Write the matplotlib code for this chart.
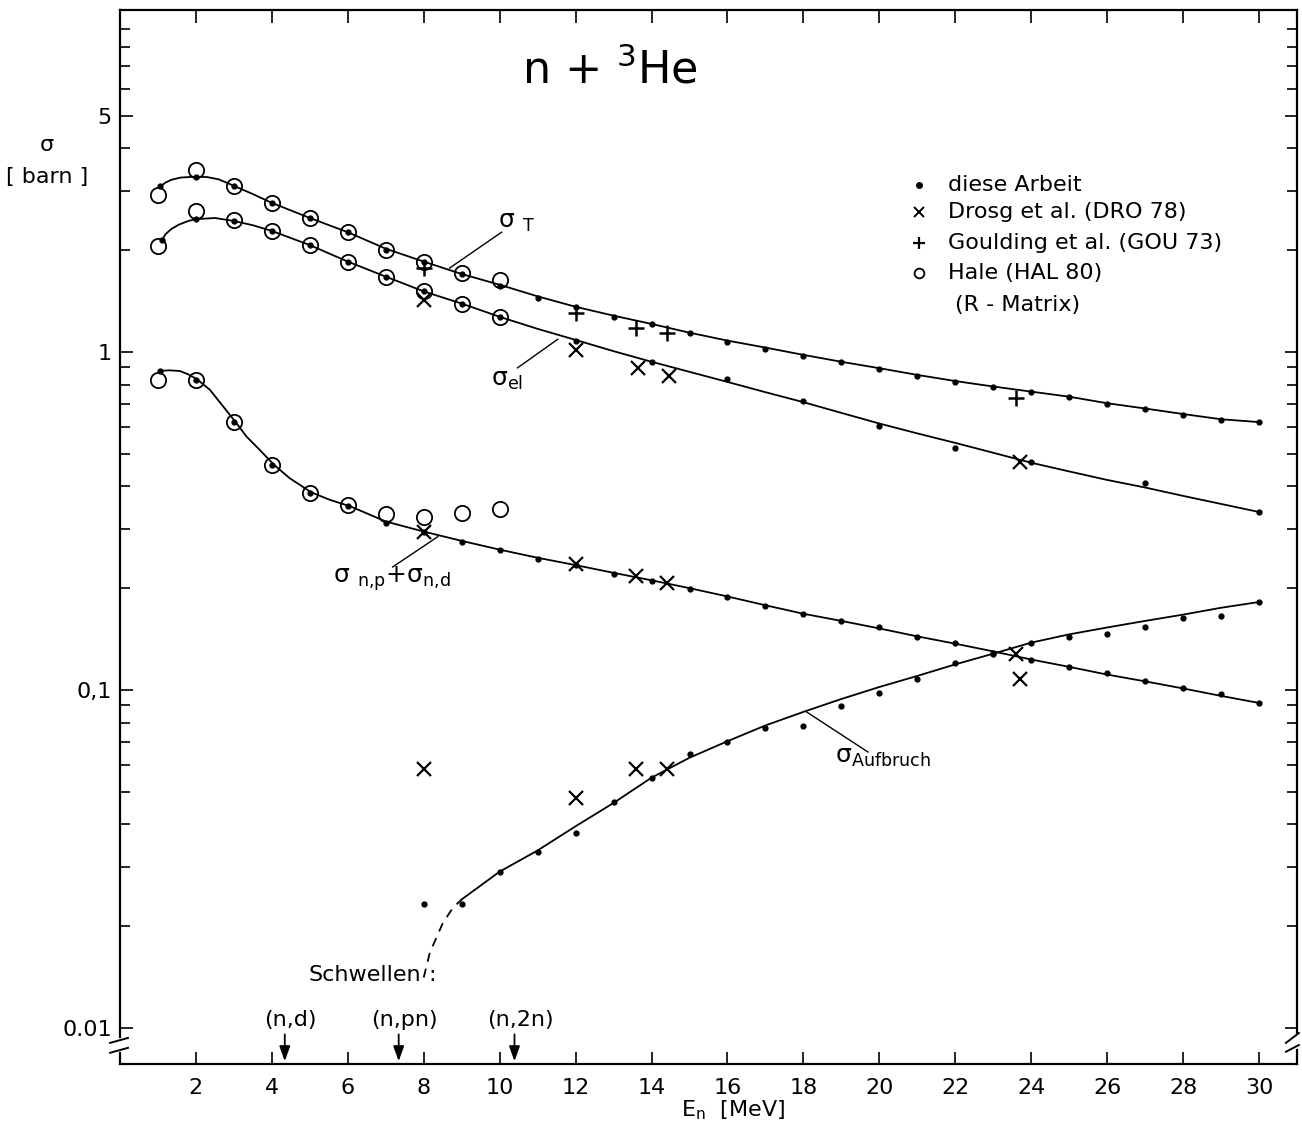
import numpy as np
import matplotlib.pyplot as plt
from matplotlib.ticker import FixedLocator, NullFormatter

plt.rcParams['font.family'] = ['DejaVu Sans']

# --- "diese Arbeit" (dots) ---
e_T_dots = [1.05, 2, 3, 4, 5, 6, 7, 8, 9, 10, 11, 12, 13, 14, 15, 16, 17, 18, 19, 20,
            21, 22, 23, 24, 25, 26, 27, 28, 29, 30]
s_T_dots = [3.10, 3.30, 3.10, 2.76, 2.49, 2.26, 2.00, 1.85, 1.70, 1.57, 1.44, 1.36, 1.27,
            1.21, 1.14, 1.07, 1.02, 0.973, 0.934, 0.89, 0.849, 0.815, 0.788, 0.761,
            0.736, 0.702, 0.678, 0.651, 0.629, 0.62]
e_el_dots = [1.1, 2, 3, 4, 5, 6, 7, 8, 9, 10, 12, 14, 16, 18, 20, 22, 24, 27, 30]
s_el_dots = [2.14, 2.47, 2.44, 2.28, 2.07, 1.85, 1.67, 1.51, 1.39, 1.27, 1.08, 0.934,
             0.832, 0.716, 0.604, 0.52, 0.473, 0.41, 0.336]
e_np_dots = [1.05, 2, 3, 4, 5, 6, 7, 8, 9, 10, 11, 12, 13, 14, 15, 16, 17, 18, 19, 20,
             21, 22, 23, 24, 25, 26, 27, 28, 29, 30]
s_np_dots = [0.879, 0.826, 0.62, 0.463, 0.382, 0.35, 0.312, 0.293, 0.274, 0.26, 0.244,
             0.234, 0.22, 0.21, 0.199, 0.188, 0.177, 0.168, 0.16, 0.153, 0.143, 0.138,
             0.128, 0.123, 0.117, 0.112, 0.106, 0.101, 0.097, 0.0917]
e_auf_dots = [8, 9, 10, 11, 12, 13, 14, 15, 16, 17, 18, 19, 20, 21, 22, 23, 24, 25, 26,
              27, 28, 29, 30]
s_auf_dots = [0.0232, 0.0232, 0.029, 0.0331, 0.0376, 0.0465, 0.055, 0.0646, 0.070,
              0.077, 0.0784, 0.0897, 0.098, 0.108, 0.12, 0.129, 0.138, 0.143, 0.146,
              0.154, 0.163, 0.166, 0.182]

# --- Drosg et al. (DRO 78) ---
e_drosg = [8, 12, 13.65, 14.45, 23.7, 8, 12, 13.6, 14.4, 23.6, 8, 12, 13.6, 14.4, 23.7]
s_drosg = [1.42, 1.01, 0.897, 0.849, 0.473, 0.293, 0.235, 0.217, 0.207, 0.128,
           0.0584, 0.0478, 0.0584, 0.0584, 0.108]

# --- Goulding et al. (GOU 73) ---
e_gould = [8, 12, 13.6, 14.4, 23.6]
s_gould = [1.77, 1.30, 1.18, 1.14, 0.731]

# --- Hale (HAL 80), R-Matrix ---
e_hale = [1, 2, 3, 4, 5, 6, 7, 8, 9, 10]
s_hale_T = [2.91, 3.45, 3.10, 2.76, 2.49, 2.26, 2.00, 1.85, 1.71, 1.63]
s_hale_el = [2.06, 2.61, 2.46, 2.28, 2.07, 1.85, 1.67, 1.51, 1.39, 1.27]
s_hale_np = [0.826, 0.826, 0.62, 0.463, 0.382, 0.352, 0.332, 0.325, 0.334, 0.343]

# --- drawn curves ---
e_T_curve = [1.08, 1.2, 1.35, 1.6, 2.0, 2.3, 2.6, 2.8, 3, 3.5, 4, 5, 6, 7, 8, 9, 10, 11,
             12, 13, 14, 15, 16, 17, 18, 19, 20, 21, 22, 23, 24, 25, 26, 27, 28, 29, 30]
s_T_curve = [3.10, 3.17, 3.23, 3.28, 3.30, 3.29, 3.24, 3.17, 3.10, 2.93, 2.76, 2.49,
             2.26, 2.02, 1.85, 1.70, 1.58, 1.46, 1.36, 1.28, 1.21, 1.14, 1.08, 1.03,
             0.98, 0.935, 0.895, 0.855, 0.82, 0.79, 0.763, 0.737, 0.705, 0.68, 0.655,
             0.632, 0.62]
e_el_curve = [1.1, 1.2, 1.35, 1.55, 1.8, 2.0, 2.5, 3, 3.5, 4, 5, 6, 7, 8, 9, 10, 11, 12,
              13, 14, 15, 16, 17, 18, 19, 20, 21, 22, 23, 24, 25, 26, 27, 28, 29, 30]
s_el_curve = [2.14, 2.23, 2.31, 2.38, 2.44, 2.47, 2.49, 2.44, 2.37, 2.28, 2.07, 1.85,
              1.67, 1.51, 1.39, 1.27, 1.17, 1.085, 1.005, 0.935, 0.873, 0.815, 0.76,
              0.71, 0.66, 0.614, 0.574, 0.538, 0.503, 0.47, 0.443, 0.418, 0.397, 0.375,
              0.355, 0.336]
e_np_curve = [1.05, 1.3, 1.58, 1.8, 2.03, 2.37, 2.72, 3.05, 3.33, 3.68, 4.06, 4.47, 5.04,
              5.53, 6.07, 7, 8, 9, 10, 11, 12, 13, 14, 15, 16, 17, 18, 19, 20, 21, 22, 23,
              24, 25, 26, 27, 28, 29, 30]
s_np_curve = [0.879, 0.882, 0.878, 0.858, 0.83, 0.772, 0.689, 0.619, 0.562, 0.513, 0.463,
              0.423, 0.384, 0.365, 0.349, 0.315, 0.294, 0.276, 0.26, 0.246, 0.234, 0.222,
              0.211, 0.2, 0.189, 0.178, 0.168, 0.16, 0.152, 0.144, 0.137, 0.13, 0.123,
              0.117, 0.111, 0.106, 0.101, 0.096, 0.0915]
e_auf_curve = [9, 10, 11, 12, 13, 14, 15, 16, 17, 18, 19, 20, 21, 22, 23, 24, 25, 26,
               27, 28, 29, 30]
s_auf_curve = [0.024, 0.029, 0.0335, 0.0395, 0.0463, 0.055, 0.063, 0.0705, 0.0785,
               0.0861, 0.094, 0.102, 0.11, 0.119, 0.128, 0.138, 0.146, 0.153, 0.16,
               0.167, 0.175, 0.182]
e_auf_dash = [8.0, 8.16, 8.5, 8.76, 9.0]
s_auf_dash = [0.0141, 0.0167, 0.0204, 0.0226, 0.024]

# thresholds
schwellen_e = [4.34, 7.34, 10.39]
schwellen_lab = ["(n,d)", "(n,pn)", "(n,2n)"]

y_lo, y_hi = 0.00782, 10.27

fig = plt.figure(figsize=(13.02, 11.33), dpi=100)
ax = fig.add_axes([120 / 1302, 69 / 1133, 1177 / 1302, 1054 / 1133])
ax.set_yscale('log')
ax.set_xlim(0, 31)
ax.set_ylim(y_lo, y_hi)

lw = 1.3
ax.plot(e_T_curve, s_T_curve, color='k', lw=lw)
ax.plot(e_el_curve, s_el_curve, color='k', lw=lw)
ax.plot(e_np_curve, s_np_curve, color='k', lw=lw)
ax.plot(e_auf_curve, s_auf_curve, color='k', lw=lw)
ax.plot(e_auf_dash, s_auf_dash, color='k', lw=lw, ls=(0, (5, 4)))

for e, s in [(e_T_dots, s_T_dots), (e_el_dots, s_el_dots),
             (e_np_dots, s_np_dots), (e_auf_dots, s_auf_dots)]:
    ax.plot(e, s, 'o', color='k', ms=3.5, ls='none')

ax.plot(e_drosg, s_drosg, 'x', color='k', ms=10, mew=1.6, ls='none')
ax.plot(e_gould, s_gould, '+', color='k', ms=11, mew=1.8, ls='none')
for s in [s_hale_T, s_hale_el, s_hale_np]:
    ax.plot(e_hale, s, 'o', mfc='none', mec='k', ms=11, mew=1.3, ls='none')

# axis frame with breaks
for side in ['left', 'right']:
    ax.spines[side].set_visible(False)
for sp in ax.spines.values():
    sp.set_linewidth(1.6)
ax.plot([0, 0], [0.0094, y_hi], color='k', lw=1.6, clip_on=False)
ax.plot([0, 0], [y_lo, 0.00844], color='k', lw=1.6, clip_on=False)
ax.plot([-0.26, 0.21], [0.00903, 0.00934], color='k', lw=1.4, clip_on=False)
ax.plot([-0.26, 0.21], [0.00844, 0.00873], color='k', lw=1.4, clip_on=False)
ax.plot([31, 31], [0.0096, y_hi], color='k', lw=1.6, clip_on=False)
ax.plot([31, 31], [y_lo, 0.0086], color='k', lw=1.6, clip_on=False)
ax.plot([30.71, 31.05], [0.00903, 0.00966], color='k', lw=1.4, clip_on=False)
ax.plot([30.71, 31.05], [0.00850, 0.00890], color='k', lw=1.4, clip_on=False)

# ticks
ax.set_xticks(range(2, 31, 2))
ax.set_yticks([0.01, 0.1, 1, 5])
ax.set_yticklabels(['0.01', '0,1', '1', '5'])
minor = [k * 10.0 ** d for d in (-2, -1, 0) for k in range(2, 10) if not (d == 0 and k == 5)]
ax.yaxis.set_minor_locator(FixedLocator(minor))
ax.yaxis.set_minor_formatter(NullFormatter())
ax.xaxis.set_minor_locator(FixedLocator([]))
ax.tick_params(which='both', direction='in', top=True, right=True, width=1.2,
               labelsize=16)
ax.tick_params(which='major', length=9)
ax.tick_params(which='minor', length=7)
ax.tick_params(axis='x', pad=10)
ax.tick_params(axis='y', pad=6)

# title and axis labels
ax.text(10.6, 6.8, "n + $^\\mathregular{3}$He", fontsize=32, ha='left', va='center')
fig.text(47 / 1302, 1 - 145 / 1133, "σ", fontsize=16, ha='center', va='center')
fig.text(47 / 1302, 1 - 177 / 1133, "[ barn ]", fontsize=16, ha='center', va='center')
fig.text(733 / 1302, 1 - 1110 / 1133, "E$_\\mathregular{n}$  [MeV]", fontsize=16,
         ha='center', va='center')

# curve labels with leaders
ax.text(9.95, 2.42, "σ $_\\mathregular{T}$", fontsize=18, ha='left', va='center')
ax.plot([8.68, 10.05], [1.77, 2.26], color='k', lw=1.0)
ax.text(9.76, 0.826, "σ$_\\mathregular{el}$", fontsize=18, ha='left', va='center')
ax.plot([11.53, 10.47], [1.09, 0.897], color='k', lw=1.0)
ax.text(5.6, 0.214, "σ $_\\mathregular{n{,}p}$+σ$_\\mathregular{n{,}d}$", fontsize=18,
        ha='left', va='center')
ax.plot([8.37, 7.18], [0.284, 0.231], color='k', lw=1.0)
ax.text(18.84, 0.0634, "σ$_\\mathregular{Aufbruch}$", fontsize=18, ha='left', va='center')
ax.plot([18.08, 19.7], [0.0861, 0.0655], color='k', lw=1.0)

# legend
leg_y = [3.12, 2.60, 2.10, 1.713, 1.378]
ax.plot(21.05, leg_y[0], 'o', color='k', ms=4)
ax.plot(21.05, leg_y[1], 'x', color='k', ms=7, mew=1.4)
ax.plot(21.05, leg_y[2], '+', color='k', ms=8, mew=1.6)
ax.plot(21.05, leg_y[3], 'o', mfc='none', mec='k', ms=7, mew=1.3)
leg_txt = ["diese Arbeit", "Drosg et al. (DRO 78)", "Goulding et al. (GOU 73)",
           "Hale (HAL 80)", "(R - Matrix)"]
for i, t in enumerate(leg_txt):
    x0 = 21.8 if i < 4 else 22.0
    ax.text(x0, leg_y[i], t, fontsize=16, ha='left', va='center')

# thresholds
ax.text(7.92, 0.0143, "Schwellen", fontsize=16, ha='right', va='center')
ax.text(8.13, 0.0143, ":", fontsize=16, ha='left', va='center')
for e, lab in zip(schwellen_e, schwellen_lab):
    ax.text(e + 0.15, 0.01056, lab, fontsize=16, ha='center', va='center')
    ax.annotate("", xy=(e, y_lo), xytext=(e, 0.00975),
                arrowprops=dict(arrowstyle='-|>,head_length=0.5,head_width=0.18',
                                color='k', lw=1.3, mutation_scale=18),
                annotation_clip=False)

fig.savefig("out.png", dpi=100)
